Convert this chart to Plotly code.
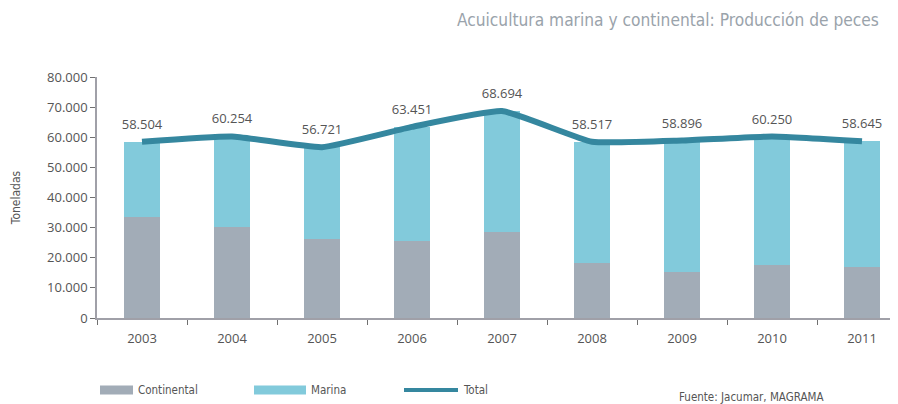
import plotly.graph_objects as go

years = ["2003", "2004", "2005", "2006", "2007", "2008", "2009", "2010", "2011"]
total = [58504, 60254, 56721, 63451, 68694, 58517, 58896, 60250, 58645]
continental = [33450, 30050, 26200, 25650, 28700, 18200, 15200, 17750, 16950]
marina = [t - c for t, c in zip(total, continental)]

C_CONT = "#a2acb7"
C_MAR = "#82cadb"
C_TOT = "#35879f"
TXT = "#555555"
NARROW = "DejaVu Sans Condensed"

fig = go.Figure()
fig.add_trace(go.Bar(x=years, y=continental, name="Continental", marker_color=C_CONT,
                     marker_line_width=0, width=0.4, hoverinfo="skip"))
fig.add_trace(go.Bar(x=years, y=marina, name="Marina", marker_color=C_MAR,
                     marker_line_width=0, width=0.4, hoverinfo="skip"))
fig.add_trace(go.Scatter(x=years, y=total, name="Total", mode="lines+markers+text",
                         line=dict(color=C_TOT, width=6, shape="spline", smoothing=0.4),
                         marker=dict(size=14, opacity=0),
                         texttemplate="%{y:,}", textposition="top center",
                         textfont=dict(family="Open Sans", size=13, color=TXT)))

# page has an 8px body margin: figure drawn at page offset (8, 8)
W, H = 890, 396
L, T, B = 89, 69, 86
PW, PH = W - L, H - T - B

fig.update_layout(
    width=W, height=H,
    margin=dict(l=L, r=0, t=T, b=B),
    barmode="stack",
    separators=",.",
    showlegend=False,
    plot_bgcolor="white", paper_bgcolor="white",
    font=dict(family="Open Sans", size=13, color=TXT),
)
fig.update_xaxes(type="category", range=[-0.5, 8.4], showline=True, linecolor="#a0a0a8",
                 linewidth=1.5, ticks="outside", tickson="boundaries", ticklen=5,
                 tickcolor="#707070", showgrid=False, automargin=False,
                 ticklabelstandoff=8,
                 tickfont=dict(family="Open Sans", size=13, color=TXT))
fig.update_yaxes(range=[0, 80000], dtick=10000, tickformat=",", showline=True,
                 linecolor="#a0a0a8", linewidth=1.5, ticks="outside", ticklen=5,
                 tickcolor="#707070", showgrid=False, zeroline=False, automargin=False,
                 tickfont=dict(family="Open Sans", size=13, color=TXT),
                 title=dict(text="Toneladas", standoff=24,
                            font=dict(family=NARROW, size=12, color=TXT)))

def px(page_x):
    return (page_x - 8 - L) / PW

def py(page_y):
    return (H - B - (page_y - 8)) / PH

# Title
fig.add_annotation(text="Acuicultura marina y continental: Producción de peces",
                   xref="paper", yref="paper", x=px(881), y=py(20),
                   xanchor="right", yanchor="middle", showarrow=False,
                   font=dict(family=NARROW, size=17.2, color="#9aa3ab"))

# Legend (manual)
def legend_item(x0, x1, label, color, kind):
    if kind == "box":
        fig.add_shape(type="rect", xref="paper", yref="paper", x0=px(x0), x1=px(x1),
                      y0=py(394.5), y1=py(385.5), fillcolor=color, line_width=0)
    else:
        fig.add_shape(type="line", xref="paper", yref="paper", x0=px(x0), x1=px(x1),
                      y0=py(390), y1=py(390), line=dict(color=color, width=4))
    fig.add_annotation(text=label, xref="paper", yref="paper", x=px(x1), xshift=3, y=py(390),
                       xanchor="left", yanchor="middle", showarrow=False,
                       font=dict(family=NARROW, size=11.5, color=TXT))

legend_item(100, 133, "Continental", C_CONT, "box")
legend_item(254, 306, "Marina", C_MAR, "box")
legend_item(404, 458, "Total", C_TOT, "line")

fig.add_annotation(text="Fuente: Jacumar, MAGRAMA", xref="paper", yref="paper",
                   x=px(677), y=py(397), xanchor="left", yanchor="middle", showarrow=False,
                   font=dict(family=NARROW, size=11.5, color=TXT))

fig.write_html("out.html")
